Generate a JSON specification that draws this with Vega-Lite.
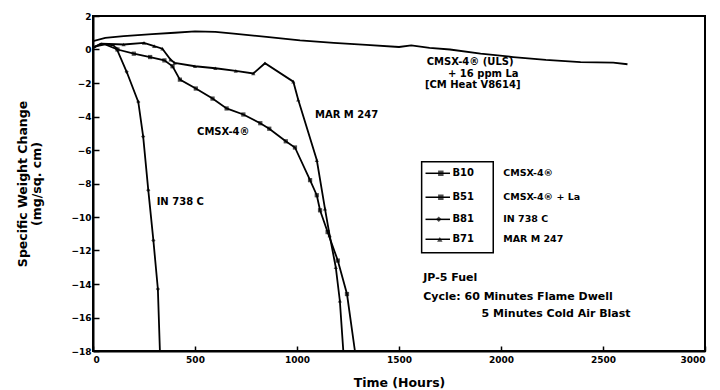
{
  "$schema": "https://vega.github.io/schema/vega-lite/v6.json",
  "width": 612,
  "height": 335,
  "autosize": {"type": "none"},
  "padding": {"left": 93, "top": 16, "right": 15, "bottom": 39},
  "background": "white",
  "config": {
    "view": {"stroke": "black", "strokeWidth": 2},
    "axis": {
      "grid": false,
      "domainColor": "black",
      "domainWidth": 2,
      "tickColor": "black",
      "tickWidth": 1.5,
      "labelFont": "DejaVu Sans",
      "labelFontWeight": "bold",
      "labelFontSize": 9,
      "labelColor": "black",
      "titleFont": "DejaVu Sans",
      "titleFontWeight": "bold",
      "titleFontSize": 12.5,
      "titleColor": "black"
    },
    "text": {"font": "DejaVu Sans", "fontWeight": "bold", "color": "black"}
  },
  "datasets": {
    "curves": [
      {"s": "B10", "h": 0, "v": 0.15}, {"s": "B10", "h": 60, "v": 0.3}, {"s": "B10", "h": 120, "v": 0.0},
      {"s": "B10", "h": 200, "v": -0.25}, {"s": "B10", "h": 280, "v": -0.45}, {"s": "B10", "h": 350, "v": -0.65},
      {"s": "B10", "h": 390, "v": -1.0}, {"s": "B10", "h": 426, "v": -1.8}, {"s": "B10", "h": 504, "v": -2.33},
      {"s": "B10", "h": 586, "v": -2.93}, {"s": "B10", "h": 655, "v": -3.52}, {"s": "B10", "h": 737, "v": -3.88},
      {"s": "B10", "h": 820, "v": -4.4}, {"s": "B10", "h": 864, "v": -4.73}, {"s": "B10", "h": 945, "v": -5.48},
      {"s": "B10", "h": 990, "v": -5.85}, {"s": "B10", "h": 1064, "v": -7.8}, {"s": "B10", "h": 1097, "v": -8.7},
      {"s": "B10", "h": 1113, "v": -9.6}, {"s": "B10", "h": 1150, "v": -10.9}, {"s": "B10", "h": 1200, "v": -12.6},
      {"s": "B10", "h": 1245, "v": -14.6}, {"s": "B10", "h": 1284, "v": -18},
      {"s": "B71", "h": 0, "v": 0.1}, {"s": "B71", "h": 40, "v": 0.35}, {"s": "B71", "h": 150, "v": 0.3},
      {"s": "B71", "h": 250, "v": 0.4}, {"s": "B71", "h": 300, "v": 0.2}, {"s": "B71", "h": 340, "v": 0.05},
      {"s": "B71", "h": 380, "v": -0.6}, {"s": "B71", "h": 400, "v": -0.8}, {"s": "B71", "h": 500, "v": -1.0},
      {"s": "B71", "h": 600, "v": -1.12}, {"s": "B71", "h": 700, "v": -1.28}, {"s": "B71", "h": 786, "v": -1.43},
      {"s": "B71", "h": 843, "v": -0.82}, {"s": "B71", "h": 982, "v": -1.92}, {"s": "B71", "h": 1006, "v": -3.0},
      {"s": "B71", "h": 1097, "v": -6.6}, {"s": "B71", "h": 1137, "v": -9.5}, {"s": "B71", "h": 1160, "v": -11.1},
      {"s": "B71", "h": 1190, "v": -13.0}, {"s": "B71", "h": 1210, "v": -15.0}, {"s": "B71", "h": 1227, "v": -18},
      {"s": "B81", "h": 0, "v": 0.1}, {"s": "B81", "h": 40, "v": 0.35}, {"s": "B81", "h": 100, "v": 0.25},
      {"s": "B81", "h": 116, "v": 0.05}, {"s": "B81", "h": 165, "v": -1.33}, {"s": "B81", "h": 222, "v": -3.13},
      {"s": "B81", "h": 246, "v": -5.2}, {"s": "B81", "h": 271, "v": -8.4}, {"s": "B81", "h": 296, "v": -11.4},
      {"s": "B81", "h": 318, "v": -14.3}, {"s": "B81", "h": 328, "v": -18},
      {"s": "B51", "h": 0, "v": 0.5}, {"s": "B51", "h": 60, "v": 0.7}, {"s": "B51", "h": 150, "v": 0.8},
      {"s": "B51", "h": 290, "v": 0.92}, {"s": "B51", "h": 400, "v": 1.0}, {"s": "B51", "h": 500, "v": 1.08},
      {"s": "B51", "h": 600, "v": 1.05}, {"s": "B51", "h": 690, "v": 0.95}, {"s": "B51", "h": 850, "v": 0.75},
      {"s": "B51", "h": 1015, "v": 0.55}, {"s": "B51", "h": 1180, "v": 0.4}, {"s": "B51", "h": 1340, "v": 0.28},
      {"s": "B51", "h": 1500, "v": 0.15}, {"s": "B51", "h": 1560, "v": 0.25}, {"s": "B51", "h": 1650, "v": 0.1},
      {"s": "B51", "h": 1750, "v": 0.0}, {"s": "B51", "h": 1900, "v": -0.25}, {"s": "B51", "h": 2060, "v": -0.45},
      {"s": "B51", "h": 2220, "v": -0.62}, {"s": "B51", "h": 2390, "v": -0.75}, {"s": "B51", "h": 2550, "v": -0.78},
      {"s": "B51", "h": 2620, "v": -0.88}
    ],
    "legendLines": [
      {"s": "B10", "h": 1630, "v": -7.39}, {"s": "B10", "h": 1750, "v": -7.39},
      {"s": "B51", "h": 1630, "v": -8.82}, {"s": "B51", "h": 1750, "v": -8.82},
      {"s": "B81", "h": 1630, "v": -10.14}, {"s": "B81", "h": 1750, "v": -10.14},
      {"s": "B71", "h": 1630, "v": -11.33}, {"s": "B71", "h": 1750, "v": -11.33}
    ],
    "legendRows": [
      {"s": "B10", "name": "CMSX-4®", "mh": 1705, "th": 1762, "nh": 2011, "v": -7.39},
      {"s": "B51", "name": "CMSX-4® + La", "mh": 1705, "th": 1762, "nh": 2011, "v": -8.82},
      {"s": "B81", "name": "IN 738 C", "mh": 1695, "th": 1762, "nh": 2011, "v": -10.14},
      {"s": "B71", "name": "MAR M 247", "mh": 1700, "th": 1762, "nh": 2011, "v": -11.33}
    ],
    "legendBox": [{"x1": 1611, "x2": 1962, "y1": -6.7, "y2": -12.13}],
    "labels": [
      {"t": "CMSX-4® (ULS)", "h": 1636, "v": -0.73},
      {"t": "+ 16 ppm La", "h": 1740, "v": -1.46},
      {"t": "[CM Heat V8614]", "h": 1627, "v": -2.12},
      {"t": "MAR M 247", "h": 1088, "v": -3.91},
      {"t": "CMSX-4®", "h": 510, "v": -4.91},
      {"t": "IN 738 C", "h": 312, "v": -9.09}
    ],
    "notes": [
      {"t": "JP-5 Fuel", "h": 1619, "v": -13.66},
      {"t": "Cycle:  60 Minutes Flame Dwell", "h": 1619, "v": -14.76},
      {"t": "5 Minutes Cold Air Blast", "h": 1905, "v": -15.79}
    ]
  },
  "encoding": {
    "x": {
      "field": "h", "type": "quantitative",
      "scale": {"domain": [0, 3000], "nice": false},
      "axis": {"values": [0, 500, 1000, 1500, 2000, 2500, 3000], "format": "d", "title": "Time (Hours)", "tickSize": -5, "labelPadding": 9, "titlePadding": 12}
    },
    "y": {
      "field": "v", "type": "quantitative",
      "scale": {"domain": [-18, 2], "nice": false, "zero": false},
      "axis": {"values": [-18, -16, -14, -12, -10, -8, -6, -4, -2, 0, 2], "title": ["Specific Weight Change", "(mg/sq. cm)"], "tickSize": -6, "labelPadding": 8, "titlePadding": 27}
    }
  },
  "layer": [
    {
      "mark": {"type": "rule", "color": "black", "strokeWidth": 2},
      "encoding": {"x": null, "y": {"datum": 0}}
    },
    {
      "data": {"name": "curves"},
      "mark": {"type": "line", "color": "black", "strokeWidth": 1.8, "clip": true},
      "encoding": {"detail": {"field": "s"}, "order": {"field": "h"}}
    },
    {
      "data": {"name": "curves"},
      "transform": [{"filter": "datum.s != 'B51' && datum.v > -17.9 && datum.h > 100"}],
      "mark": {"type": "point", "filled": true, "color": "black", "size": 18, "clip": true},
      "encoding": {
        "shape": {"field": "s", "scale": {"domain": ["B10", "B51", "B81", "B71"], "range": ["square", "square", "diamond", "triangle-up"]}, "legend": null}
      }
    },
    {
      "data": {"name": "legendBox"},
      "mark": {"type": "rect", "fill": null, "stroke": "black", "strokeWidth": 1.5},
      "encoding": {
        "x": {"field": "x1", "type": "quantitative"},
        "x2": {"field": "x2"},
        "y": {"field": "y1", "type": "quantitative"},
        "y2": {"field": "y2"}
      }
    },
    {
      "data": {"name": "legendLines"},
      "mark": {"type": "line", "color": "black", "strokeWidth": 1.5},
      "encoding": {"detail": {"field": "s"}}
    },
    {
      "data": {"name": "legendRows"},
      "mark": {"type": "point", "filled": true, "color": "black", "size": 30},
      "encoding": {
        "x": {"field": "mh", "type": "quantitative"},
        "shape": {"field": "s", "scale": {"domain": ["B10", "B51", "B81", "B71"], "range": ["square", "square", "diamond", "triangle-up"]}, "legend": null}
      }
    },
    {
      "data": {"name": "legendRows"},
      "mark": {"type": "text", "align": "left", "baseline": "middle", "fontSize": 10},
      "encoding": {"x": {"field": "th", "type": "quantitative"}, "text": {"field": "s"}}
    },
    {
      "data": {"name": "legendRows"},
      "mark": {"type": "text", "align": "left", "baseline": "middle", "fontSize": 9.5},
      "encoding": {"x": {"field": "nh", "type": "quantitative"}, "text": {"field": "name"}}
    },
    {
      "data": {"name": "labels"},
      "mark": {"type": "text", "align": "left", "baseline": "middle", "fontSize": 10},
      "encoding": {"text": {"field": "t"}}
    },
    {
      "data": {"name": "notes"},
      "mark": {"type": "text", "align": "left", "baseline": "middle", "fontSize": 11},
      "encoding": {"text": {"field": "t"}}
    }
  ]
}
